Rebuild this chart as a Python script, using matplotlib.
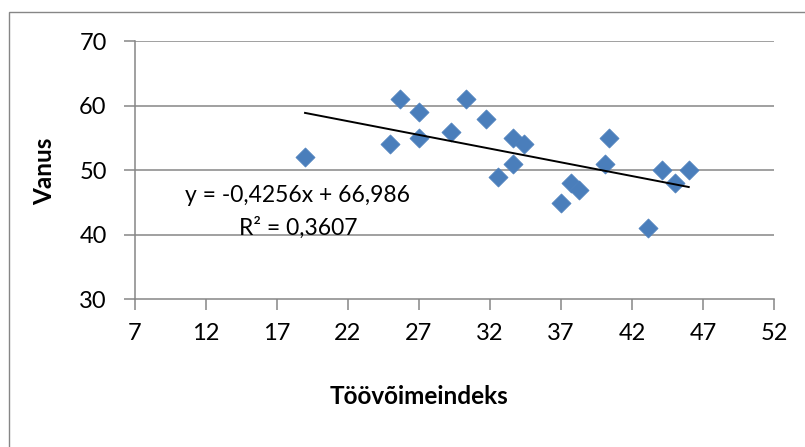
import matplotlib
matplotlib.use("Agg")
import matplotlib.pyplot as plt
import numpy as np
from matplotlib.patches import Rectangle

# Work ability index vs. age
toovoimeindeks = [19.0, 25.0, 25.7, 27.0, 27.0, 29.3, 30.3, 31.7, 32.6, 33.6,
                  33.6, 34.4, 37.0, 37.7, 38.3, 40.1, 40.4, 43.1, 44.1, 45.0, 46.0]
vanus = [52, 54, 61, 59, 55, 56, 61, 58, 49, 55,
         51, 54, 45, 48, 47, 51, 55, 41, 50, 48, 50]

# Linear trend line coefficients
slope = -0.4256
intercept = 66.986
r_squared = 0.3607

x_ticks = [7, 12, 17, 22, 27, 32, 37, 42, 47, 52]
y_ticks = [30, 40, 50, 60, 70]

plt.rcParams['font.family'] = ['Lato', 'DejaVu Sans']

fig = plt.figure(figsize=(8.05, 4.47), dpi=100)
ax = fig.add_axes([134.5 / 805, 1 - 299.3 / 447, (774 - 134.5) / 805, (299.3 - 41.3) / 447])

grid_col = '#868686'

# chart frame
fig.patches.append(Rectangle((9 / 805, -0.1), 1.2, 1 - 12 / 447 + 0.1,
                             transform=fig.transFigure, fill=False,
                             edgecolor=grid_col, linewidth=1.0))

ax.set_xlim(x_ticks[0], x_ticks[-1])
ax.set_ylim(y_ticks[0], y_ticks[-1])
ax.set_xticks(x_ticks)
ax.set_yticks(y_ticks)
ax.set_xticklabels([str(t) for t in x_ticks])
ax.set_yticklabels([str(t) for t in y_ticks])

for t in y_ticks[1:]:
    ax.axhline(t, color=grid_col, linewidth=1.1, zorder=1)

for side in ['top', 'right']:
    ax.spines[side].set_visible(False)
for side in ['left', 'bottom']:
    ax.spines[side].set_color(grid_col)
    ax.spines[side].set_linewidth(1.1)

ax.tick_params(axis='both', direction='out', length=8, width=1.1, color=grid_col,
               labelsize=17, labelcolor='black')
ax.tick_params(axis='y', pad=12)
ax.tick_params(axis='x', pad=9)

ax.scatter(toovoimeindeks, vanus, marker='D', s=95, color='#4A7EBB',
           edgecolors='#4F81BD', linewidths=0.5, zorder=3, clip_on=False)

xs = np.array([min(toovoimeindeks), max(toovoimeindeks)])
ax.plot(xs, slope * xs + intercept, color='black', linewidth=1.4, zorder=4)

ax.text(184.8 / 805, 1 - 195.7 / 447,
        "y = -0,4256x + 66,986", transform=fig.transFigure,
        fontsize=16.5, va='center', ha='left')
ax.text(239 / 805, 1 - 228 / 447,
        "R² = 0,3607", transform=fig.transFigure,
        fontsize=16.5, va='center', ha='left')

fig.text(419 / 805, 1 - 397 / 447, "Töövõimeindeks", fontsize=17.5,
         fontweight='bold', ha='center', va='center')
fig.text(45 / 805, 1 - 171 / 447, "Vanus", fontsize=17.5, fontweight='bold',
         ha='center', va='center', rotation=90)

fig.savefig("out.png", dpi=100)
